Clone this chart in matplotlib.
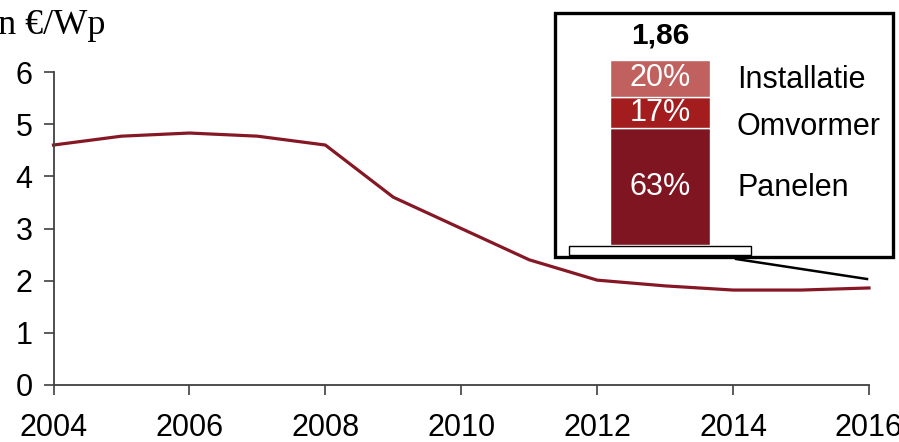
import matplotlib
matplotlib.use("Agg")
import matplotlib.pyplot as plt
from matplotlib.patches import Rectangle
from matplotlib.lines import Line2D

# ---- data ----
years = [2004, 2005, 2006, 2007, 2008, 2009, 2010, 2011, 2012, 2013, 2014, 2015, 2016]
price = [4.60, 4.77, 4.83, 4.77, 4.60, 3.60, 3.00, 2.40, 2.01, 1.90, 1.82, 1.82, 1.86]
x_ticks = [2004, 2006, 2008, 2010, 2012, 2014, 2016]
y_ticks = [0, 1, 2, 3, 4, 5, 6]
y_label = "in €/Wp"

components = ["Panelen", "Omvormer", "Installatie"]
shares = [63, 17, 20]
share_labels = ["63%", "17%", "20%"]
total_label = "1,86"

W, H = 899, 442
def fx(px): return px / W
def fy(py): return 1 - py / H

plt.rcParams['font.family'] = ['Liberation Sans', 'DejaVu Sans']
fig = plt.figure(figsize=(W / 100, H / 100), dpi=100)

# ---- main axes ----
left, right, top, bottom = 53.5, 869, 72, 385
ax = fig.add_axes([fx(left), fy(bottom), fx(right) - fx(left), fy(top) - fy(bottom)])
ax.plot(years, price, color='#861826', lw=2.3, clip_on=False, solid_joinstyle='miter')
ax.set_xlim(2004, 2016)
ax.set_ylim(0, 6)
ax.set_xticks(x_ticks)
ax.set_yticks(y_ticks)
for s in ['top', 'right']:
    ax.spines[s].set_visible(False)
for s in ['left', 'bottom']:
    ax.spines[s].set_color('#404040')
    ax.spines[s].set_linewidth(1.3)
ax.tick_params(axis='both', direction='out', length=7, width=1.2, color='#404040',
               labelsize=22, labelcolor='black')
ax.tick_params(axis='x', pad=13)
ax.tick_params(axis='y', pad=8)

fig.text(fx(106), fy(34), y_label, family=['Liberation Serif', 'DejaVu Serif'],
         fontsize=26, ha='right', va='baseline')

# ---- inset frame ----
frame = Rectangle((fx(555), fy(257)), fx(893) - fx(555), fy(13) - fy(257),
                  transform=fig.transFigure, facecolor='white', edgecolor='black',
                  lw=2.4, zorder=2)
fig.patches.append(frame)

base = Rectangle((fx(569), fy(255)), fx(751) - fx(569), fy(245.5) - fy(255),
                 transform=fig.transFigure, facecolor='white', edgecolor='black',
                 lw=1.0, zorder=3)
fig.patches.append(base)

leader = Line2D([fx(736), fx(867)], [fy(259), fy(279)], transform=fig.transFigure,
                color='black', lw=1.8, zorder=3)
fig.lines.append(leader)

# ---- inset stacked bar ----
bar_l, bar_r, bar_b, bar_t = 610, 710, 245, 60
axi = fig.add_axes([fx(bar_l), fy(bar_b), fx(bar_r) - fx(bar_l), fy(bar_t) - fy(bar_b)])
axi.set_zorder(4)
axi.patch.set_visible(False)
axi.set_xlim(-0.5, 0.5)
axi.set_ylim(0, 100)
axi.axis('off')
colors = ['#7F1520', '#A31C1E', '#C0605F']
label_y = [31, 64, 89]
bottom_acc = 0
for comp, sh, lab, col, ly in zip(components, shares, share_labels, colors, label_y):
    axi.bar(0, sh, bottom=bottom_acc, width=1.0, color=col, edgecolor='white', lw=1.0)
    axi.text(0, bottom_acc + sh / 2, lab, color='white', fontsize=22,
             ha='center', va='center')
    axi.text(0.77, ly, comp, color='black', fontsize=22, ha='left', va='center',
             clip_on=False)
    bottom_acc += sh
axi.text(0, 113, total_label, fontsize=21.5, fontweight='bold', ha='center', va='center',
         clip_on=False)

fig.savefig('out.png', dpi=100)
